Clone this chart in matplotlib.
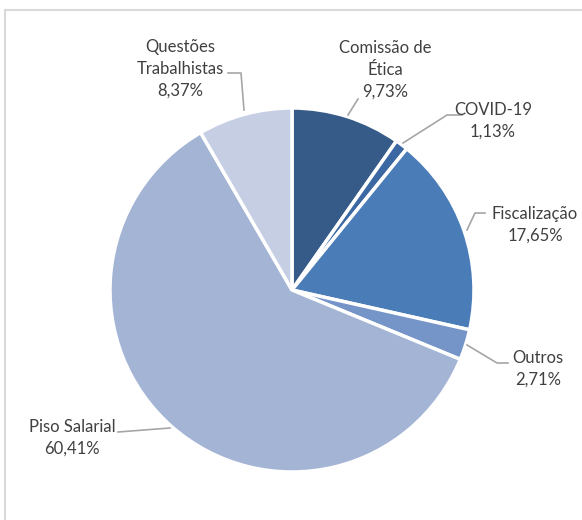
import matplotlib.pyplot as plt

categories = ['Comissão de\nÉtica', 'COVID-19', 'Fiscalização', 'Outros', 'Piso Salarial', 'Questões\nTrabalhistas']
shares = [9.73, 1.13, 17.65, 2.71, 60.41, 8.37]
colors = ['#375B88', '#3B68A3', '#4A7CB8', '#7594C8', '#A3B4D5', '#C5CEE3']

# label anchor (pixel coords, y down) and leader line points
label_pos = [(385, 70), (493, 121), (535, 225), (538, 369), (72, 438), (180, 69)]
leaders = [
    [(358, 99), (348, 115)],
    [(462, 115), (447, 115), (403, 143)],
    [(485, 213), (475, 213), (467, 230)],
    [(508, 363), (497, 363), (467, 345)],
    [(118, 432), (170, 428)],
    [(228, 73), (241, 73), (244, 110)],
]

W, H = 582, 520
fig = plt.figure(figsize=(W / 100, H / 100), dpi=100)
ax = fig.add_axes([0, 0, 1, 1])
ax.set_xlim(0, W)
ax.set_ylim(0, H)
ax.set_aspect('equal')
ax.axis('off')

ax.pie(shares, colors=colors, startangle=90, counterclock=False,
       center=(292, H - 290), radius=182,
       wedgeprops=dict(edgecolor='white', linewidth=2.5))
ax.set_xlim(0, W)
ax.set_ylim(0, H)

for name, val, (lx, ly) in zip(categories, shares, label_pos):
    txt = name + '\n' + ('%.2f' % val).replace('.', ',') + '%'
    ax.text(lx, H - ly, txt, ha='center', va='center', fontsize=12,
            family='Lato', color='#404040', linespacing=1.45)

for pts in leaders:
    xs = [p[0] for p in pts]
    ys = [H - p[1] for p in pts]
    ax.plot(xs, ys, color='#A6A6A6', lw=1.2)

# chart frame
ax.plot([5, W], [H - 10, H - 10], color='#D9D9D9', lw=1.5)
ax.plot([5, 5], [H - 10, 0], color='#D9D9D9', lw=1.5)

fig.savefig('out.png', dpi=100)
